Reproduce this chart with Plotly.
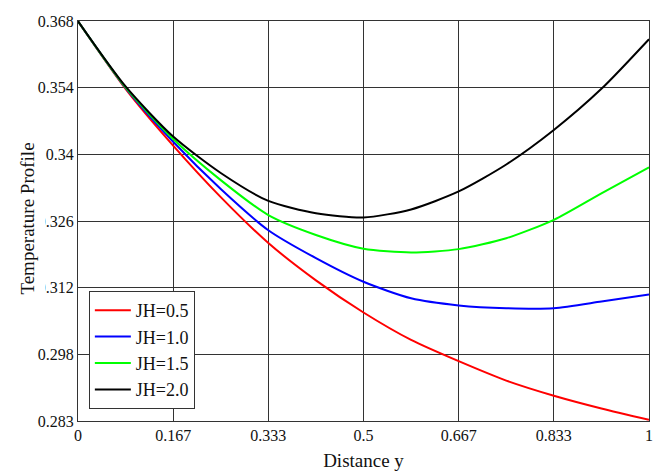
import numpy as np
import plotly.graph_objects as go

# Distance across the channel (0 .. 1)
distance = [0, 1/12, 2/12, 3/12, 4/12, 5/12, 6/12, 7/12, 8/12, 9/12, 10/12, 11/12, 1]

# Temperature profiles for each Joule heating parameter JH
temp_jh05 = [0.3680, 0.3537, 0.3417, 0.3308, 0.3211, 0.3132, 0.3064, 0.3006,
             0.2961, 0.2920, 0.2888, 0.2861, 0.2837]
temp_jh10 = [0.3680, 0.3539, 0.3425, 0.3325, 0.3238, 0.3179, 0.3129, 0.3094,
             0.3079, 0.3073, 0.3073, 0.3087, 0.3102]
temp_jh15 = [0.3680, 0.3540, 0.3431, 0.3344, 0.3270, 0.3228, 0.3199, 0.3191,
             0.3198, 0.3221, 0.3260, 0.3316, 0.3371]
temp_jh20 = [0.3680, 0.3542, 0.3436, 0.3359, 0.3300, 0.3274, 0.3265, 0.3282,
             0.3320, 0.3377, 0.3450, 0.3537, 0.3642]

series_names = ["JH=0.5", "JH=1.0", "JH=1.5", "JH=2.0"]
series_colors = ["#ff0000", "#0000ff", "#00ff00", "#000000"]

# Axis limits and the tick labels shown at the six equal divisions
x_limits = [0.0, 1.0]
y_limits = [0.28345, 0.36805]
x_tick_labels = ["0", "0.167", "0.333", "0.5", "0.667", "0.833", "1"]
y_tick_labels = ["0.283", "0.298", "0.312", "0.326", "0.34", "0.354", "0.368"]

FONT = "Liberation Serif"
GRID = "#333333"
TEXT = "#111111"

fig = go.Figure()
for name, color, ys in zip(series_names, series_colors,
                           [temp_jh05, temp_jh10, temp_jh15, temp_jh20]):
    fig.add_trace(go.Scatter(
        x=distance, y=ys, mode="lines", name=name,
        line=dict(color=color, width=2, shape="spline", smoothing=0.7),
    ))

fig.update_layout(
    width=657, height=476,
    margin=dict(l=78, r=4, t=21, b=55),
    paper_bgcolor="white", plot_bgcolor="white",
    font=dict(family=FONT, size=16, color=TEXT),
    showlegend=True,
    legend=dict(
        x=0.019, y=0.03, xanchor="left", yanchor="bottom",
        bgcolor="white", bordercolor=GRID, borderwidth=1,
        itemwidth=36,
        font=dict(family=FONT, size=18, color=TEXT),
    ),
)

fig.update_xaxes(
    range=x_limits,
    tickmode="array",
    tickvals=np.linspace(x_limits[0], x_limits[1], 7),
    ticktext=x_tick_labels,
    showgrid=True, gridcolor=GRID, gridwidth=1,
    showline=True, linecolor=GRID, linewidth=1, mirror=True,
    zeroline=False, ticks="",
    tickfont=dict(family=FONT, size=16, color=TEXT),
    title=dict(text="Distance y", font=dict(family=FONT, size=19, color=TEXT), standoff=10),
)
fig.update_yaxes(
    range=y_limits,
    tickmode="array",
    tickvals=np.linspace(y_limits[0], y_limits[1], 7),
    ticktext=y_tick_labels,
    showgrid=True, gridcolor=GRID, gridwidth=1,
    showline=True, linecolor=GRID, linewidth=1, mirror=True,
    zeroline=False, ticks="",
    tickfont=dict(family=FONT, size=16, color=TEXT),
)

# Vertical axis title on a white box
fig.add_annotation(
    text="Temperature Profile", textangle=-90,
    xref="paper", yref="paper", x=-0.090, y=0.505,
    xanchor="center", yanchor="middle", showarrow=False,
    bgcolor="white", borderpad=7,
    font=dict(family=FONT, size=19, color=TEXT),
)

fig.write_html("out.html")
